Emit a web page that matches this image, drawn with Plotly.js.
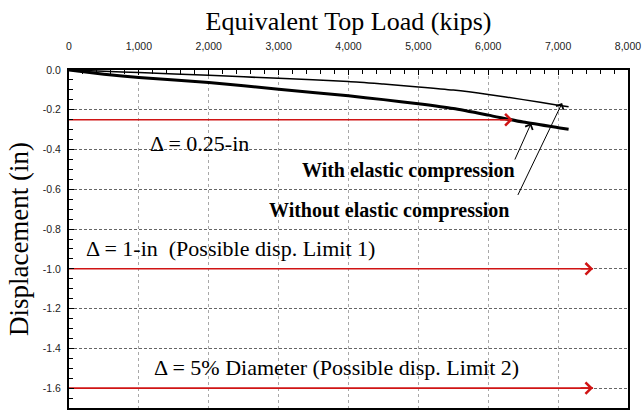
<!DOCTYPE html>
<html>
<head>
<meta charset="utf-8">
<script src="https://cdn.plot.ly/plotly-3.0.1.min.js"></script>
<style>html,body{margin:0;padding:0;background:#fff;}#chart{width:644px;height:411px;}</style>
</head>
<body>
<div id="chart"></div>
<script>
// Equivalent top load (kips)
const loadKips = [0, 500, 1000, 2000, 3000, 4000, 4500, 5000, 5500, 6000, 6500, 7000, 7150];
// Displacement (in), without elastic compression (thin upper line)
const dispWithout = [0, -0.006, -0.013, -0.027, -0.042, -0.058, -0.071, -0.085, -0.101, -0.123, -0.149, -0.177, -0.185];
// Displacement (in), with elastic compression (thick lower line)
const dispWith = [0, -0.021, -0.038, -0.063, -0.097, -0.130, -0.149, -0.170, -0.194, -0.227, -0.262, -0.290, -0.298];

// Displacement limits and where their arrows end
const limitDisp = [-0.25, -1.0, -1.6];
const limitArrowEnd = [6350, 7500, 7500];
const limitLabels = ['Δ = 0.25-in', 'Δ = 1-in\u00a0 (Possible disp. Limit 1)', 'Δ = 5% Diameter (Possible disp. Limit 2)'];
const limitLabelX = [1129, 214, 1186];
const limitLabelY = [-0.368, -0.897, -1.498];

// Curve labels and the points their arrows point at
const curveLabels = ['With elastic compression', 'Without elastic compression'];
const curveLabelX = [6414, 6329];
const curveLabelY = [-0.504, -0.706];
const curveArrowTailX = [6371, 6414];
const curveArrowTailY = [-0.458, -0.636];
const curveArrowTipX = [6614, 7057];
const curveArrowTipY = [-0.268, -0.166];

// Tick labels
const xTickVals = [0, 1000, 2000, 3000, 4000, 5000, 6000, 7000, 8000];
const xTickText = ['0', '1,000', '2,000', '3,000', '4,000', '5,000', '6,000', '7,000', '8,000'];
const yTickVals = [0, -0.2, -0.4, -0.6, -0.8, -1.0, -1.2, -1.4, -1.6];
const yTickText = ['0.0', '-0.2', '-0.4', '-0.6', '-0.8', '-1.0', '-1.2', '-1.4', '-1.6'];

const RED = '#d01414';
const serif = 'Liberation Serif';
const sans = 'Liberation Sans';

const traces = [];
limitDisp.forEach((d, i) => {
  traces.push({
    x: [0, limitArrowEnd[i]], y: [d, d], mode: 'lines',
    line: {color: RED, width: 1.6}, hoverinfo: 'skip', showlegend: false
  });
});
traces.push({
  x: loadKips, y: dispWithout, mode: 'lines', name: 'Without elastic compression',
  line: {color: '#000', width: 1.5, shape: 'spline', smoothing: 0.6}, showlegend: false
});
traces.push({
  x: loadKips, y: dispWith, mode: 'lines', name: 'With elastic compression',
  line: {color: '#000', width: 3, shape: 'spline', smoothing: 0.6}, showlegend: false
});

const annotations = [];
limitDisp.forEach((d, i) => {
  annotations.push({
    x: limitArrowEnd[i], y: d, xref: 'x', yref: 'y',
    ax: -14, ay: 0, text: '', showarrow: true,
    arrowhead: 4, arrowsize: 1.4, arrowwidth: 1.6, arrowcolor: RED
  });
  annotations.push({
    x: limitLabelX[i], y: limitLabelY[i], xref: 'x', yref: 'y',
    text: limitLabels[i], showarrow: false, xanchor: 'left', yanchor: 'middle',
    font: {family: serif, size: 22, color: '#000'}
  });
});
curveLabels.forEach((t, i) => {
  annotations.push({
    x: curveLabelX[i], y: curveLabelY[i], xref: 'x', yref: 'y',
    text: '<b>' + t + '</b>', showarrow: false, xanchor: 'right', yanchor: 'middle',
    font: {family: serif, size: 20, color: '#000'}
  });
  annotations.push({
    x: curveArrowTipX[i], y: curveArrowTipY[i], xref: 'x', yref: 'y',
    ax: curveArrowTailX[i], ay: curveArrowTailY[i], axref: 'x', ayref: 'y',
    text: '', showarrow: true, arrowhead: 4, arrowsize: 1.6, arrowwidth: 1, arrowcolor: '#000'
  });
});

const layout = {
  width: 644, height: 411,
  margin: {l: 69, r: 16, t: 70, b: 3},
  paper_bgcolor: '#fff', plot_bgcolor: '#fff',
  showlegend: false,
  xaxis: {
    range: [0, 8000], side: 'top',
    tickmode: 'array', tickvals: xTickVals, ticktext: xTickText,
    ticks: 'inside', ticklen: 5, tickwidth: 1, tickcolor: '#000',
    minor: {ticks: 'inside', dtick: 200, tick0: 0, ticklen: 4, tickcolor: '#000', showgrid: false},
    showline: true, linewidth: 2, linecolor: '#000', mirror: true,
    showgrid: true, gridcolor: '#a8a8a8', gridwidth: 1, griddash: '3px,3px',
    zeroline: false, ticklabelstandoff: 14,
    tickfont: {family: sans, size: 10.5, color: '#222'},
    title: {text: 'Equivalent Top Load (kips)', font: {family: serif, size: 26, color: '#000'}, standoff: 2}
  },
  yaxis: {
    range: [-1.7, 0],
    tickmode: 'array', tickvals: yTickVals, ticktext: yTickText,
    ticks: 'inside', ticklen: 5, tickwidth: 1, tickcolor: '#000',
    minor: {ticks: 'inside', dtick: 0.05, tick0: 0, ticklen: 4, tickcolor: '#000', showgrid: false},
    showline: true, linewidth: 2, linecolor: '#000', mirror: true,
    showgrid: true, gridcolor: '#666', gridwidth: 1, griddash: '3px,2px',
    zeroline: false, ticklabelstandoff: 4,
    tickfont: {family: sans, size: 10.5, color: '#222'},
    title: {text: 'Displacement (in)', font: {family: serif, size: 27, color: '#000'}, standoff: 6}
  },
  annotations: annotations
};

Plotly.newPlot('chart', traces, layout, {displayModeBar: false, staticPlot: true});
</script>
</body>
</html>
